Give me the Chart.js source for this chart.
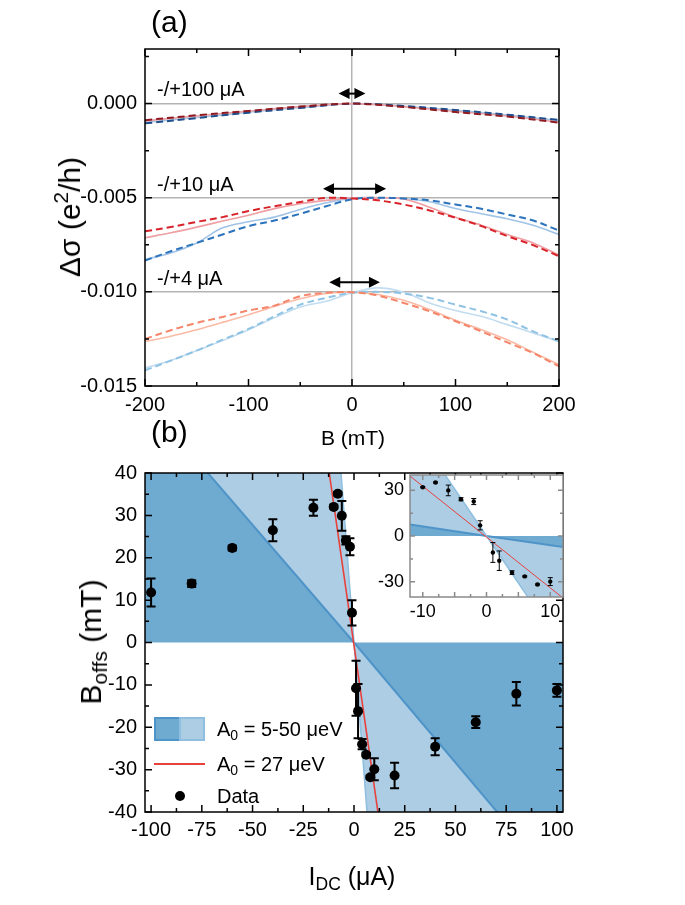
<!DOCTYPE html>
<html>
<head>
<meta charset="utf-8">
<script src="https://cdn.jsdelivr.net/npm/chart.js@4.4.0/dist/chart.umd.min.js"></script>
<style>
body { margin: 0; background: #fff; }
#wrap { position: relative; width: 685px; height: 905px; font-family: "Liberation Sans", Arial, sans-serif; color: #000; }
canvas { position: absolute; }
.lbl { position: absolute; font-size: 20px; line-height: 20px; white-space: nowrap; }
.rot { transform: translate(-50%, -50%) rotate(-90deg); }
.ctr { transform: translate(-50%, -50%); }
sub { font-size: 70%; vertical-align: -0.3em; line-height: 0; }
sup { font-size: 70%; vertical-align: 0.55em; line-height: 0; }
.sw { position: absolute; box-sizing: border-box; border: 2px solid #4f94c8; }
</style>
</head>
<body>
<div id="wrap">
  <canvas id="chartA" width="685" height="455" style="left:0;top:0"></canvas>
  <canvas id="chartB" width="685" height="452" style="left:0;top:453px"></canvas>
  <canvas id="chartInset" width="200" height="180" style="left:370px;top:455px"></canvas>

  <div class="lbl" style="left:151px;top:7px;font-size:30px;line-height:30px">(a)</div>
  <div class="lbl" style="left:157px;top:79px">-/+100 &mu;A</div>
  <div class="lbl" style="left:157px;top:174px">-/+10 &mu;A</div>
  <div class="lbl" style="left:157px;top:268px">-/+4 &mu;A</div>
  <div class="lbl ctr" style="left:353px;top:437px;font-size:21px;line-height:21px">B (mT)</div>
  <div class="lbl rot" style="left:70px;top:217px;font-size:30px;line-height:30px">&Delta;&sigma; (e<sup>2</sup>/h)</div>

  <div class="lbl" style="left:151px;top:417px;font-size:30px;line-height:30px">(b)</div>
  <div class="lbl rot" style="left:91px;top:642px;font-size:30px;line-height:30px">B<sub>offs</sub> (mT)</div>
  <div class="lbl ctr" style="left:352px;top:876px;font-size:25px;line-height:25px">I<sub>DC</sub> (&mu;A)</div>

  <div class="sw" style="left:154px;top:717px;width:27px;height:24px;background:#6faad0"></div>
  <div class="sw" style="left:179px;top:717px;width:26px;height:24px;background:#accde4;border-color:#8fbfe0"></div>
  <div class="lbl" style="left:217px;top:719px">A<sub>0</sub> = 5-50 &mu;eV</div>
  <div style="position:absolute;left:154px;top:763px;width:51px;height:2px;background:#e8413c"></div>
  <div class="lbl" style="left:217px;top:754px">A<sub>0</sub> = 27 &mu;eV</div>
  <div style="position:absolute;left:175px;top:791px;width:10px;height:10px;border-radius:50%;background:#000"></div>
  <div class="lbl" style="left:217px;top:786px">Data</div>
</div>
<script>
// ---- panel (a): delta sigma vs B ----
const bCoarse = [-200, -150, -100, -50, 0, 50, 100, 150, 200];
const bFine = [-200, -175, -150, -125, -100, -75, -50, -25, 0, 25, 50, 75, 100, 125, 150, 175, 200];

const red100Dash = [-0.00088, -0.00062, -0.00039, -0.00016, 0, -0.00018, -0.00045, -0.00069, -0.00101];
const blue100Dash = [-0.00105, -0.00077, -0.00048, -0.00023, 0, -0.00013, -0.00034, -0.00059, -0.00087];
const red100Solid = [-0.00092, -0.00065, -0.00040, -0.00016, 0, -0.00016, -0.00042, -0.00066, -0.00098];
const blue100Solid = [-0.00100, -0.00074, -0.00046, -0.00021, 0, -0.00014, -0.00036, -0.00061, -0.00090];

const red10Dash = [-0.00678, -0.00656, -0.00628, -0.00603, -0.00571, -0.00545, -0.00523, -0.00501, -0.00504, -0.00514, -0.00536, -0.00568, -0.00606, -0.00651, -0.00704, -0.00752, -0.00811];
const red10Solid = [-0.00713, -0.00686, -0.00656, -0.00624, -0.00593, -0.00558, -0.00532, -0.00514, -0.00502, -0.00500, -0.00507, -0.00550, -0.00604, -0.00646, -0.00695, -0.00740, -0.00805];
const blue10Dash = [-0.00834, -0.00784, -0.00740, -0.00695, -0.00651, -0.00621, -0.00585, -0.00545, -0.00508, -0.00500, -0.00504, -0.00514, -0.00536, -0.00559, -0.00589, -0.00621, -0.00674];
const blue10Solid = [-0.00828, -0.00793, -0.00740, -0.00660, -0.00628, -0.00603, -0.00562, -0.00527, -0.00502, -0.00500, -0.00504, -0.00521, -0.00557, -0.00585, -0.00612, -0.00646, -0.00695];

const red4Dash = [-0.01250, -0.01204, -0.01165, -0.01133, -0.01099, -0.01073, -0.01023, -0.01005, -0.01002, -0.01020, -0.01059, -0.01103, -0.01156, -0.01210, -0.01268, -0.01325, -0.01396];
const red4Solid = [-0.01263, -0.01236, -0.01201, -0.01162, -0.01121, -0.01077, -0.01037, -0.01009, -0.01002, -0.01014, -0.01045, -0.01094, -0.01151, -0.01201, -0.01254, -0.01321, -0.01387];
const blue4Dash = [-0.01417, -0.01365, -0.01312, -0.01254, -0.01197, -0.01130, -0.01068, -0.01032, -0.01005, -0.01000, -0.01009, -0.01032, -0.01068, -0.01103, -0.01147, -0.01210, -0.01263];
const blue4Solid = [-0.01404, -0.01365, -0.01312, -0.01259, -0.01201, -0.01138, -0.01080, -0.01050, -0.01005, -0.00979, -0.01002, -0.01059, -0.01099, -0.01130, -0.01174, -0.01218, -0.01263];

// shift arrows (B range, mT) and their level
const arrowFrom = [-13, -28, -22];
const arrowTo = [13, 33, 27];
const arrowLevel = [0.00053, -0.00452, -0.00949];

const ticksAx = [-200, -100, 0, 100, 200];
const ticksAy = [-0.015, -0.010, -0.005, 0.000];
const gridAy = [0.000, -0.005, -0.010];

// ---- panel (b): B_offs vs I_DC ----
const iDC = [-100, -80, -60, -40, -20, -10, -8, -6, -4, -2, -1, 1, 2, 4, 6, 8, 10, 20, 40, 60, 80, 100];
const bOffs = [11.8, 13.9, 22.3, 26.5, 31.8, 32.0, 35.1, 29.9, 24.1, 22.6, 7.0, -10.8, -16.2, -24.0, -26.5, -31.8, -29.9, -31.4, -24.6, -18.8, -12.1, -11.3];
const bOffsErr = [3.3, 0.8, 0.6, 2.6, 1.9, 0.4, 0.4, 3.5, 1.0, 2.0, 3.0, 6.5, 6.4, 1.2, 0.4, 0.4, 2.6, 3.0, 2.0, 1.4, 2.75, 1.5];

// band edges for A0 = 5 and 50 ueV, and A0 = 27 ueV line
const edgeI = [-103, 0, 103];
const edgeShallowB = [57.2, 0, -58.4];
const edgeSteepB = [644, 0, -644];
const fitI = [-12.2, 11.8];
const fitB = [40, -40];

const insetEdgeI = [-12, 0, 12];
const insetShallowB = [7.5, 0, -7.3];
const insetSteepB = [74, 0, -74];

const ticksBx = [-100, -75, -50, -25, 0, 25, 50, 75, 100];
const ticksBy = [-40, -30, -20, -10, 0, 10, 20, 30, 40];
const ticksInsetX = [-10, 0, 10];
const ticksInsetY = [-30, 0, 30];

Chart.defaults.font.family = '"Liberation Sans", Arial, sans-serif';
Chart.defaults.font.size = 20;
Chart.defaults.color = '#000';

const pts = (xs, ys) => xs.map((x, i) => ({ x: x, y: ys[i] }));

// frame with inward ticks on all four sides
const framePlugin = {
  id: 'frame',
  beforeDraw(chart, args, opts) {
    if (!opts.bg) return;
    const a = chart.chartArea, c = chart.ctx;
    c.save();
    c.fillStyle = opts.bg;
    c.fillRect(a.left, a.top, a.right - a.left, a.bottom - a.top);
    c.restore();
  },
  afterDraw(chart, args, opts) {
    const a = chart.chartArea, c = chart.ctx;
    const xs = chart.scales.x, ys = chart.scales.y;
    c.save();
    c.strokeStyle = opts.color;
    c.lineWidth = opts.width;
    c.strokeRect(a.left, a.top, a.right - a.left, a.bottom - a.top);
    const isMajor = (v, m) => Math.abs(v / m - Math.round(v / m)) < 1e-6;
    c.beginPath();
    for (let v = Math.ceil(xs.min / opts.xMinor - 1e-9) * opts.xMinor; v <= xs.max + 1e-9; v += opts.xMinor) {
      const p = xs.getPixelForValue(v);
      const l = isMajor(v, opts.xMajor) ? opts.major : opts.minor;
      c.moveTo(p, a.bottom); c.lineTo(p, a.bottom - l);
      c.moveTo(p, a.top); c.lineTo(p, a.top + l);
    }
    for (let v = Math.ceil(ys.min / opts.yMinor - 1e-9) * opts.yMinor; v <= ys.max + 1e-9; v += opts.yMinor) {
      const p = ys.getPixelForValue(v);
      const l = isMajor(v, opts.yMajor) ? opts.major : opts.minor;
      c.moveTo(a.left, p); c.lineTo(a.left + l, p);
      c.moveTo(a.right, p); c.lineTo(a.right - l, p);
    }
    c.stroke();
    c.restore();
  }
};

// double-headed arrows in panel (a)
const arrowPlugin = {
  id: 'arrows',
  afterDatasetsDraw(chart, args, opts) {
    if (!opts.level) return;
    const c = chart.ctx, xs = chart.scales.x, ys = chart.scales.y;
    c.save();
    c.strokeStyle = '#000'; c.fillStyle = '#000'; c.lineWidth = 2;
    opts.level.forEach((lv, i) => {
      const x1 = xs.getPixelForValue(opts.from[i]), x2 = xs.getPixelForValue(opts.to[i]);
      const y = ys.getPixelForValue(lv);
      c.beginPath(); c.moveTo(x1 + 6, y); c.lineTo(x2 - 6, y); c.stroke();
      c.beginPath(); c.moveTo(x1, y); c.lineTo(x1 + 11, y - 5.5); c.lineTo(x1 + 11, y + 5.5); c.closePath(); c.fill();
      c.beginPath(); c.moveTo(x2, y); c.lineTo(x2 - 11, y - 5.5); c.lineTo(x2 - 11, y + 5.5); c.closePath(); c.fill();
    });
    c.restore();
  }
};

// vertical error bars for the data dataset
const errorPlugin = {
  id: 'errbars',
  afterDatasetsDraw(chart, args, opts) {
    if (!opts.err) return;
    const c = chart.ctx, ys = chart.scales.y, a = chart.chartArea;
    const meta = chart.getDatasetMeta(opts.index);
    const ds = chart.data.datasets[opts.index];
    c.save();
    c.beginPath(); c.rect(a.left, a.top, a.right - a.left, a.bottom - a.top); c.clip();
    c.strokeStyle = '#000'; c.lineWidth = opts.lw;
    meta.data.forEach((el, i) => {
      const e = opts.err[i];
      const yv = ds.data[i].y;
      const y1 = ys.getPixelForValue(yv + e), y2 = ys.getPixelForValue(yv - e);
      c.beginPath();
      c.moveTo(el.x, y1); c.lineTo(el.x, y2);
      c.moveTo(el.x - opts.cap, y1); c.lineTo(el.x + opts.cap, y1);
      c.moveTo(el.x - opts.cap, y2); c.lineTo(el.x + opts.cap, y2);
      c.stroke();
    });
    c.restore();
  }
};

Chart.register(framePlugin, arrowPlugin, errorPlugin);

const curve = (xs, ys, color, dashed, order) => ({
  type: 'line',
  data: pts(xs, ys),
  borderColor: color,
  borderWidth: dashed ? 2 : 1.6,
  borderDash: dashed ? [7, 4] : [],
  pointRadius: 0,
  tension: 0.35,
  fill: false,
  order: order
});

const fixW = w => s => { s.width = w; };
const fixH = h => s => { s.height = h; };
const setTicks = arr => s => { s.ticks = arr.map(v => ({ value: v })); };
const noGrid = { display: false, drawTicks: false };

// ---------- chart (a) ----------
new Chart(document.getElementById('chartA'), {
  type: 'line',
  data: {
    datasets: [
      curve(bCoarse, red100Dash, '#8e1b22', true, 0),
      curve(bCoarse, blue100Dash, '#1f4f8d', true, 0),
      curve(bCoarse, red100Solid, '#e7a3a8', false, 1),
      curve(bCoarse, blue100Solid, '#a9c5e2', false, 1),
      curve(bFine, red10Dash, '#d8232a', true, 0),
      curve(bFine, blue10Dash, '#2b73bd', true, 0),
      curve(bFine, red10Solid, '#ef9ea2', false, 1),
      curve(bFine, blue10Solid, '#a1c4e6', false, 1),
      curve(bFine, red4Dash, '#f4866a', true, 0),
      curve(bFine, blue4Dash, '#8fc3e4', true, 0),
      curve(bFine, red4Solid, '#fbbaa6', false, 1),
      curve(bFine, blue4Solid, '#c2dcf0', false, 1)
    ]
  },
  options: {
    responsive: false, animation: false, devicePixelRatio: 1,
    layout: { autoPadding: false, padding: { left: 0, top: 49, right: 126, bottom: 39 } },
    plugins: {
      legend: { display: false }, tooltip: { enabled: false },
      frame: { color: '#000', width: 1.5, xMinor: 50, xMajor: 100, yMinor: 0.0025, yMajor: 0.005, major: 7, minor: 4 },
      arrows: { from: arrowFrom, to: arrowTo, level: arrowLevel }
    },
    scales: {
      x: {
        type: 'linear', min: -200, max: 200,
        afterBuildTicks: setTicks(ticksAx), afterFit: fixH(30),
        ticks: { padding: 7, callback: v => String(v) },
        grid: { drawTicks: false, lineWidth: 1.5, color: c => c.tick && c.tick.value === 0 ? '#b4b4b4' : 'rgba(0,0,0,0)' },
        border: { display: false }
      },
      y: {
        type: 'linear', min: -0.015, max: 0.0029,
        afterBuildTicks: setTicks(ticksAy), afterFit: fixW(145),
        ticks: { padding: 8, callback: v => (Math.abs(v) < 1e-9 ? 0 : v).toFixed(3) },
        grid: { drawTicks: false, lineWidth: 1.5, color: c => c.tick && gridAy.some(g => Math.abs(g - c.tick.value) < 1e-9) ? '#b4b4b4' : 'rgba(0,0,0,0)' },
        border: { display: false }
      }
    }
  }
});

// ---------- chart (b) ----------
function bandSets(ei, shallow, steep, fitLw) {
  return [
    { type: 'line', data: pts(ei, shallow), borderWidth: 0, pointRadius: 0, backgroundColor: '#6faad0', fill: 'origin', order: 6 },
    { type: 'line', data: pts(ei, steep), borderWidth: 0, pointRadius: 0, backgroundColor: '#accde4', fill: 0, order: 5 },
    { type: 'line', data: pts(ei, shallow), borderColor: '#4f94c8', borderWidth: 2, pointRadius: 0, fill: false, order: 4 },
    { type: 'line', data: pts(ei, steep), borderColor: '#8fbfe0', borderWidth: 1.5, pointRadius: 0, fill: false, order: 3 },
    { type: 'line', data: pts(fitI, fitB), borderColor: '#e8413c', borderWidth: fitLw, pointRadius: 0, fill: false, order: 2 }
  ];
}

new Chart(document.getElementById('chartB'), {
  type: 'scatter',
  data: {
    datasets: bandSets(edgeI, edgeShallowB, edgeSteepB, 1.6).concat([
      { type: 'scatter', data: pts(iDC, bOffs), pointRadius: 5, backgroundColor: '#000', borderWidth: 0, order: 0 }
    ])
  },
  options: {
    responsive: false, animation: false, devicePixelRatio: 1,
    layout: { autoPadding: false, padding: { left: 0, top: 20, right: 122, bottom: 63 } },
    plugins: {
      legend: { display: false }, tooltip: { enabled: false },
      frame: { color: '#000', width: 1.5, xMinor: 12.5, xMajor: 25, yMinor: 5, yMajor: 10, major: 7, minor: 4 },
      errbars: { index: 5, err: bOffsErr, cap: 4.5, lw: 2 }
    },
    scales: {
      x: {
        type: 'linear', min: -103, max: 103,
        afterBuildTicks: setTicks(ticksBx), afterFit: fixH(30),
        ticks: { padding: 6, callback: v => String(v) },
        grid: noGrid, border: { display: false }
      },
      y: {
        type: 'linear', min: -40, max: 40,
        afterBuildTicks: setTicks(ticksBy), afterFit: fixW(145),
        ticks: { padding: 8, callback: v => String(v) },
        grid: noGrid, border: { display: false }
      }
    }
  }
});

// ---------- inset ----------
new Chart(document.getElementById('chartInset'), {
  type: 'scatter',
  data: {
    datasets: bandSets(insetEdgeI, insetShallowB, insetSteepB, 1).concat([
      { type: 'scatter', data: pts(iDC, bOffs), pointRadius: 2.2, backgroundColor: '#000', borderWidth: 0, order: 0 }
    ])
  },
  options: {
    responsive: false, animation: false, devicePixelRatio: 1,
    layout: { autoPadding: false, padding: { left: 0, top: 20, right: 7, bottom: 10 } },
    plugins: {
      legend: { display: false }, tooltip: { enabled: false },
      frame: { bg: '#fff', color: '#8a8a8a', width: 1.5, xMinor: 2.5, xMajor: 5, yMinor: 15, yMajor: 30, major: 5, minor: 3 },
      errbars: { index: 5, err: bOffsErr, cap: 2.5, lw: 1 }
    },
    scales: {
      x: {
        type: 'linear', min: -12, max: 12,
        afterBuildTicks: setTicks(ticksInsetX), afterFit: fixH(28),
        ticks: { padding: 4, font: { size: 18 }, callback: v => String(v) },
        grid: noGrid, border: { display: false }
      },
      y: {
        type: 'linear', min: -40, max: 40,
        afterBuildTicks: setTicks(ticksInsetY), afterFit: fixW(40),
        ticks: { padding: 6, font: { size: 18 }, callback: v => String(v) },
        grid: noGrid, border: { display: false }
      }
    }
  }
});
</script>
</body>
</html>
